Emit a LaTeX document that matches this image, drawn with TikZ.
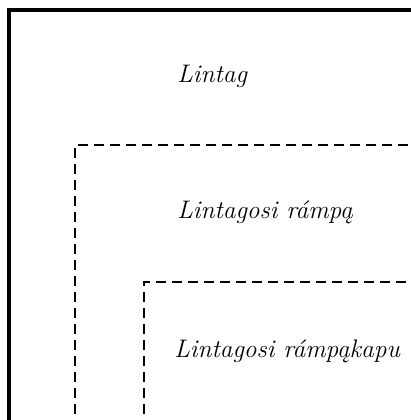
\documentclass[tikz,border=0pt]{standalone}

\begin{document}
\begin{tikzpicture}[x=0.5pt,y=-0.5pt]
\useasboundingbox (0,0) rectangle (411,420);
\clip (0,0) rectangle (411,420);
\tikzset{box/.style={line width=1.7pt},
  dashbox/.style={line width=0.65pt,dash pattern=on 5pt off 3pt},
  label/.style={anchor=base west,inner sep=0pt,font=\fontsize{12.7}{15}\selectfont\itshape}}
% outer solid frame
\draw[box] (9,430) -- (9,10) -- (420,10);
\node[label] (lintag) at (177,82) {Lintag};
% first dashed frame
\draw[dashbox] (75,430) -- (75,145) -- (420,145);
\node[label] (rampa) at (177,218) {Lintagosi rámpą};
% second dashed frame
\draw[dashbox] (144,430) -- (144,282) -- (420,282);
\node[label] (rampakapu) at (174,357) {Lintagosi rámpąkapu};
\end{tikzpicture}
\end{document}
